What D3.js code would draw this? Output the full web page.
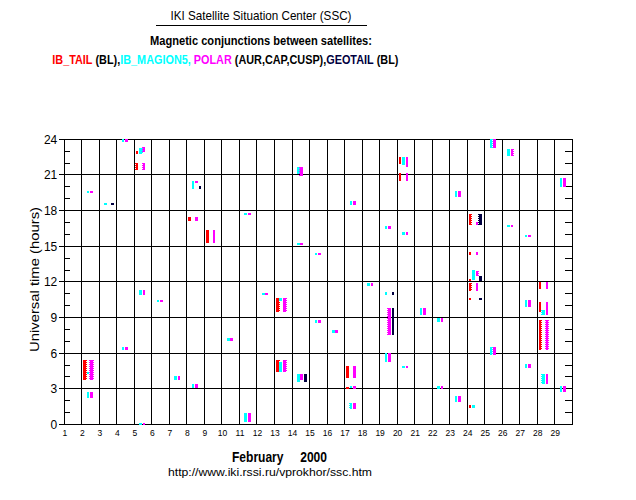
<!DOCTYPE html>
<html>
<head>
<meta charset="utf-8">
<script src="https://cdn.jsdelivr.net/npm/d3@7"></script>
<style>
  body { margin: 0; background: #fff; }
  svg { display: block; }
  text { font-family: "Liberation Sans", Arial, sans-serif; }
</style>
</head>
<body>
<div id="chart"></div>
<script>
(function () {
  // days of February 2000, hours of the day
  var days = d3.range(1, 30);
  var majorHours = [0, 3, 6, 9, 12, 15, 18, 21, 24];
  var minorHours = d3.range(0, 25);

  // [day, from hour, to hour, comb side]
  var ibTail = [
    [2, 3.76, 5.44, 'r'], [5, 22.8, 23.0, ''], [5, 21.42, 22.04, 'l'],
    [8, 17.09, 17.49, ''], [9, 15.26, 16.33, ''], [13, 9.43, 10.62, 'r'],
    [13, 4.46, 5.44, 'r'], [17, 3.95, 4.96, ''], [17, 3.0, 3.1, ''],
    [20, 21.9, 22.5, ''], [20, 20.5, 21.14, ''], [24, 16.78, 17.68, 'r'],
    [24, 14.25, 14.5, ''], [24, 12.1, 12.27, ''], [24, 11.27, 11.92, 'r'],
    [24, 10.45, 10.65, ''], [24, 1.42, 1.65, ''], [28, 11.43, 11.97, ''],
    [28, 9.43, 10.28, ''], [28, 6.23, 8.82, 'r']
  ];
  var ibMagion5 = [
    [2, 4.25, 4.45, ''], [2, 2.24, 2.77, ''], [2, 19.48, 19.65, ''],
    [3, 18.44, 18.63, ''], [4, 23.8, 24, ''], [4, 6.23, 6.48, ''],
    [5, 22.74, 23.3, 'r'], [5, 10.93, 11.29, ''], [5, 0, 0.12, ''],
    [6, 10.28, 10.5, ''], [7, 3.76, 4.12, ''], [8, 19.79, 20.46, ''],
    [8, 3.1, 3.42, ''], [10, 7.05, 7.32, ''], [11, 17.6, 17.82, ''],
    [11, 0.24, 0.95, ''], [12, 10.93, 11.1, ''], [13, 10.42, 10.67, ''],
    [13, 4.46, 5.3, ''], [14, 21.05, 21.67, ''], [14, 3.61, 4.26, ''],
    [14, 15.07, 15.29, ''], [15, 14.25, 14.45, ''], [15, 8.56, 8.82, ''],
    [16, 7.7, 7.97, ''], [17, 18.44, 18.8, ''], [17, 3.08, 3.25, ''],
    [17, 1.28, 1.84, 'l'], [18, 11.67, 11.87, ''], [19, 16.41, 16.69, ''],
    [19, 10.93, 11.12, ''], [19, 5.22, 6.0, ''], [20, 21.8, 22.5, ''],
    [20, 15.93, 16.16, ''], [20, 4.74, 4.96, ''], [21, 9.24, 9.8, ''],
    [22, 8.6, 8.93, ''], [22, 3.0, 3.25, ''], [23, 19.14, 19.65, ''],
    [23, 1.93, 2.43, ''], [24, 12.2, 12.98, ''], [24, 1.42, 1.65, ''],
    [25, 23.25, 24.0, 'r'], [25, 5.86, 6.48, 'r'], [26, 22.6, 23.16, ''],
    [26, 16.6, 16.8, ''], [27, 15.77, 15.97, ''], [27, 9.92, 10.5, ''],
    [27, 4.74, 5.1, ''], [28, 9.24, 9.66, 'l'], [28, 3.42, 4.26, 'l'],
    [29, 19.98, 20.72, ''], [29, 2.77, 3.25, '']
  ];
  var polar = [
    [2, 3.76, 5.44, 'b'], [2, 2.24, 2.77, ''], [2, 19.48, 19.65, ''],
    [4, 23.8, 24, ''], [4, 6.23, 6.48, ''], [5, 22.94, 23.36, 'l'],
    [5, 21.42, 22.04, 'l'], [5, 10.93, 11.29, ''], [5, 0, 0.12, ''],
    [6, 10.28, 10.5, ''], [7, 3.76, 4.12, ''], [8, 17.09, 17.49, ''],
    [8, 20.3, 20.46, ''], [8, 3.1, 3.42, ''], [9, 15.26, 16.33, ''],
    [10, 7.05, 7.32, ''], [11, 17.6, 17.82, ''], [11, 0.24, 0.95, ''],
    [12, 10.93, 11.1, ''], [13, 9.43, 10.62, 'r'], [13, 4.46, 5.44, 'r'],
    [14, 20.9, 21.67, 'l'], [14, 3.76, 4.26, ''], [14, 15.07, 15.29, ''],
    [15, 14.25, 14.45, ''], [15, 8.56, 8.82, ''], [16, 7.7, 7.97, ''],
    [17, 18.44, 18.8, ''], [17, 3.95, 4.96, ''], [17, 3.0, 3.27, ''],
    [17, 1.28, 1.84, ''], [18, 11.67, 11.87, ''], [19, 16.41, 16.69, ''],
    [19, 7.55, 9.8, 'l'], [19, 5.3, 6.0, ''], [20, 21.7, 22.5, ''],
    [20, 20.5, 21.14, ''], [20, 15.93, 16.16, ''], [20, 4.74, 4.96, ''],
    [21, 9.24, 9.8, ''], [22, 8.6, 8.93, ''], [22, 3.0, 3.25, ''],
    [23, 19.14, 19.65, ''], [23, 1.93, 2.43, ''], [24, 16.78, 17.03, ''],
    [24, 14.25, 14.5, ''], [24, 12.47, 12.95, 'r'], [24, 11.27, 11.92, ''],
    [25, 23.25, 24.0, ''], [25, 5.86, 6.48, ''], [26, 22.6, 23.16, 'r'],
    [26, 16.6, 16.8, ''], [27, 15.77, 15.97, ''], [27, 9.92, 10.5, ''],
    [27, 4.74, 5.1, ''], [28, 11.43, 11.97, ''], [28, 9.24, 10.28, ''],
    [28, 6.23, 8.82, 'b'], [28, 3.42, 4.26, ''], [29, 19.98, 20.72, ''],
    [29, 2.77, 3.25, '']
  ];
  var geotail = [
    [3, 18.44, 18.63, ''], [8, 19.79, 20.1, ''], [14, 3.61, 4.26, ''],
    [19, 10.93, 11.12, ''], [19, 7.55, 9.8, ''], [24, 16.78, 17.68, 'l'],
    [24, 12.1, 12.47, ''], [24, 10.45, 10.65, '']
  ];

  var satellites = ['IB_TAIL', 'IB_MAGION5', 'POLAR', 'GEOTAIL'];
  var satColors = ['#ff0000', '#00ffff', '#ff00ff', '#000040'];
  var satData = [ibTail, ibMagion5, polar, geotail];

  var legendParts = [
    ['IB_TAIL', '#ff0000'], [' (BL),', '#000'], ['IB_MAGION5, ', '#00ffff'],
    ['POLAR', '#ff00ff'], [' (AUR,CAP,CUSP),', '#000'], ['GEOTAIL', '#000040'],
    [' (BL)', '#000']
  ];

  var width = 636;
  var height = 500;
  var left = 64.3, right = 572.3, top = 139.3, bottom = 424.5;

  var svg = d3.select('#chart').append('svg')
    .attr('width', width)
    .attr('height', height);

  var x = d3.scaleLinear().domain([1, 30]).range([left, right]);
  var y = d3.scaleLinear().domain([0, 24]).range([bottom, top]);
  var sub = d3.scaleBand().domain(satellites).range([1.5, 14.5]).paddingInner(0.25);
  var color = d3.scaleOrdinal().domain(satellites).range(satColors);

  // squeeze a text horizontally so it spans the wanted width
  function fitWidth(sel, x0, y0, w) {
    var len = sel.node().getComputedTextLength();
    sel.attr('transform', 'translate(' + x0 + ',' + y0 + ') scale(' + (w / len) + ',1)');
  }

  // titles
  svg.append('text')
    .attr('x', 261).attr('y', 19.5)
    .attr('text-anchor', 'middle')
    .attr('font-size', 13)
    .attr('textLength', 181).attr('lengthAdjust', 'spacingAndGlyphs')
    .text('IKI Satellite Situation Center (SSC)');

  svg.append('line')
    .attr('x1', 156).attr('x2', 367)
    .attr('y1', 25.5).attr('y2', 25.5)
    .attr('stroke', '#000').attr('stroke-width', 1)
    .attr('shape-rendering', 'crispEdges');

  svg.append('text')
    .attr('x', 261).attr('y', 44.5)
    .attr('text-anchor', 'middle')
    .attr('font-size', 13).attr('font-weight', 'bold')
    .attr('textLength', 222).attr('lengthAdjust', 'spacingAndGlyphs')
    .text('Magnetic conjunctions between satellites:');

  var legend = svg.append('text')
    .attr('font-size', 13).attr('font-weight', 'bold')
    .style('white-space', 'pre');
  legendParts.forEach(function (p) {
    legend.append('tspan').attr('fill', p[1]).text(p[0]);
  });
  fitWidth(legend, 52.3, 63.5, 346);

  // grid
  var grid = svg.append('g')
    .attr('stroke', '#000')
    .attr('stroke-width', 1)
    .attr('shape-rendering', 'crispEdges');

  grid.selectAll('.vline').data(days.concat([30])).enter().append('line')
    .attr('x1', function (d) { return x(d); })
    .attr('x2', function (d) { return x(d); })
    .attr('y1', y(24)).attr('y2', y(0));

  grid.selectAll('.hline').data(majorHours).enter().append('line')
    .attr('x1', left - 5).attr('x2', right)
    .attr('y1', function (d) { return y(d); })
    .attr('y2', function (d) { return y(d); });

  grid.selectAll('.ltick').data(minorHours).enter().append('line')
    .attr('x1', left).attr('x2', left + 6)
    .attr('y1', function (d) { return y(d); })
    .attr('y2', function (d) { return y(d); });

  grid.selectAll('.rtick').data(minorHours).enter().append('line')
    .attr('x1', right - 7).attr('x2', right)
    .attr('y1', function (d) { return y(d); })
    .attr('y2', function (d) { return y(d); });

  // axes labels
  var yAxis = svg.append('g')
    .attr('transform', 'translate(' + (left - 1) + ',0)')
    .call(d3.axisLeft(y).tickValues(majorHours).tickSize(0).tickPadding(6));
  yAxis.select('.domain').remove();
  yAxis.selectAll('text')
    .attr('font-size', 12)
    .attr('font-family', '"Liberation Sans", Arial, sans-serif');

  var xAxis = svg.append('g')
    .attr('transform', 'translate(0,' + (bottom + 5) + ')')
    .call(d3.axisBottom(x).tickValues(days).tickSize(0).tickPadding(0)
      .tickFormat(d3.format('d')));
  xAxis.select('.domain').remove();
  xAxis.selectAll('text')
    .attr('font-size', 8.5)
    .attr('font-family', '"Liberation Sans", Arial, sans-serif');

  svg.append('text')
    .attr('transform', 'translate(39,279.5) rotate(-90)')
    .attr('text-anchor', 'middle')
    .attr('font-size', 13)
    .attr('textLength', 145).attr('lengthAdjust', 'spacingAndGlyphs')
    .text('Universal time (hours)');

  svg.append('text')
    .attr('x', 232).attr('y', 461.5)
    .attr('font-size', 14).attr('font-weight', 'bold')
    .attr('textLength', 95).attr('lengthAdjust', 'spacingAndGlyphs')
    .style('white-space', 'pre')
    .text('February     2000');

  svg.append('text')
    .attr('x', 168).attr('y', 475.5)
    .attr('font-size', 11)
    .attr('textLength', 204).attr('lengthAdjust', 'spacingAndGlyphs')
    .text('http://www.iki.rssi.ru/vprokhor/ssc.htm');

  // conjunction bars
  var marks = svg.append('g').attr('shape-rendering', 'crispEdges');

  satellites.forEach(function (sat, i) {
    var g = marks.append('g').attr('fill', color(sat)).attr('stroke', color(sat));
    var rows = satData[i];

    function barTop(d) {
      var h = y(d[1]) - y(d[2]);
      return h < 2 ? (y(d[1]) + y(d[2])) / 2 - 1 : y(d[2]);
    }
    function barH(d) {
      return Math.max(2, y(d[1]) - y(d[2]));
    }
    function combX(c) {
      var x0 = x(c.d[0]) + sub(sat);
      return c.side > 0 ? x0 + sub.bandwidth() + 0.5 : x0 - 0.5;
    }

    g.selectAll('rect').data(rows).enter().append('rect')
      .attr('stroke', 'none')
      .attr('x', function (d) { return x(d[0]) + sub(sat); })
      .attr('y', barTop)
      .attr('width', sub.bandwidth())
      .attr('height', barH);

    var combs = [];
    rows.forEach(function (d) {
      if (d[3] === 'l' || d[3] === 'b') combs.push({ d: d, side: -1 });
      if (d[3] === 'r' || d[3] === 'b') combs.push({ d: d, side: 1 });
    });

    g.selectAll('line').data(combs).enter().append('line')
      .attr('x1', combX)
      .attr('x2', combX)
      .attr('y1', function (c) { return y(c.d[2]); })
      .attr('y2', function (c) { return y(c.d[1]); })
      .attr('stroke-width', 1)
      .attr('stroke-dasharray', '1,1');
  });
})();
</script>
</body>
</html>
